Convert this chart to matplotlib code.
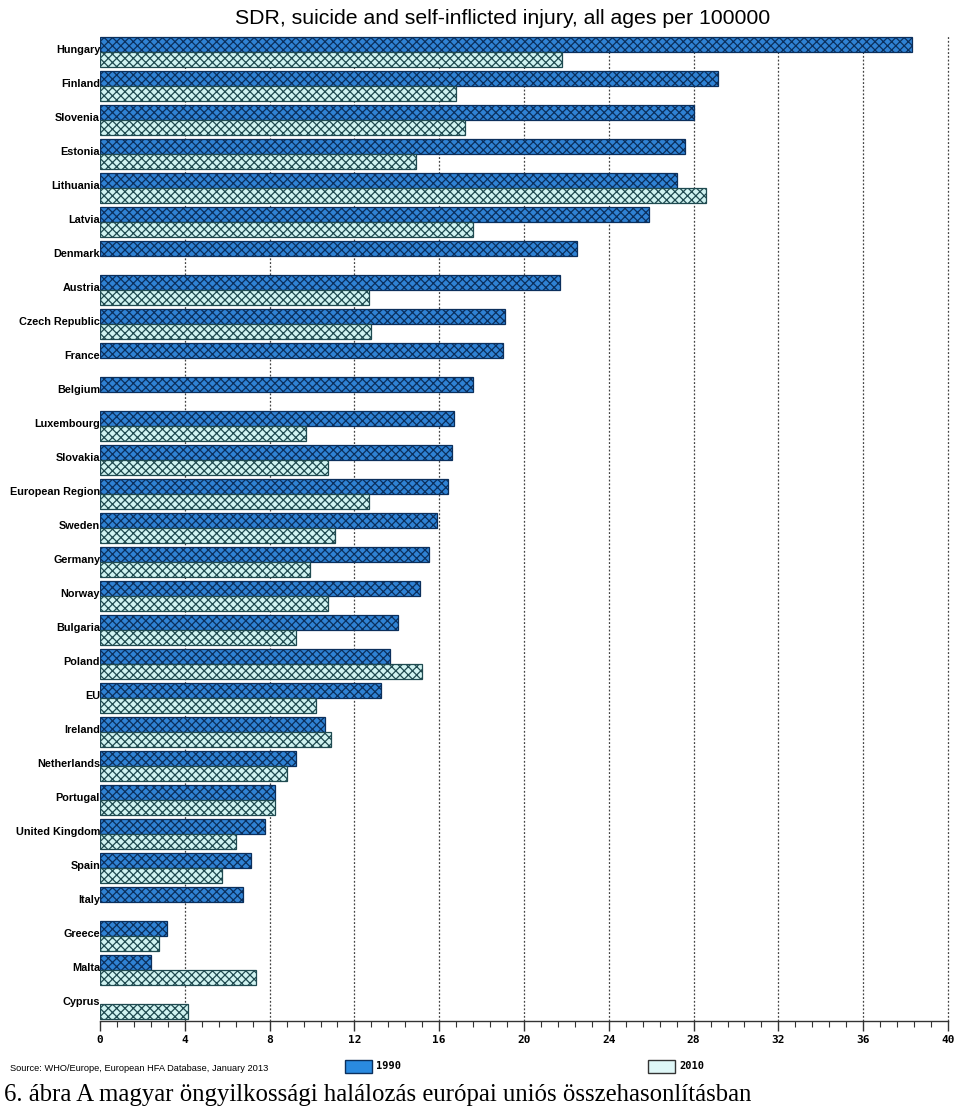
import matplotlib
matplotlib.use("Agg")
import matplotlib.pyplot as plt
import numpy as np
from matplotlib.ticker import MultipleLocator
from matplotlib.patches import Rectangle

countries = ["Hungary", "Finland", "Slovenia", "Estonia", "Lithuania", "Latvia",
             "Denmark", "Austria", "Czech Republic", "France", "Belgium",
             "Luxembourg", "Slovakia", "European Region", "Sweden", "Germany",
             "Norway", "Bulgaria", "Poland", "EU", "Ireland", "Netherlands",
             "Portugal", "United Kingdom", "Spain", "Italy", "Greece", "Malta",
             "Cyprus"]
values_1990 = [38.3, 29.15, 28.0, 27.6, 27.2, 25.9,
               22.5, 21.7, 19.1, 19.0, 17.6,
               16.7, 16.6, 16.4, 15.9, 15.5,
               15.1, 14.05, 13.7, 13.25, 10.6, 9.25,
               8.25, 7.8, 7.1, 6.75, 3.15, 2.4,
               np.nan]
values_2010 = [21.8, 16.8, 17.2, 14.9, 28.6, 17.6,
               np.nan, 12.7, 12.8, np.nan, np.nan,
               9.7, 10.75, 12.7, 11.1, 9.9,
               10.75, 9.25, 15.2, 10.2, 10.9, 8.8,
               8.25, 6.4, 5.75, np.nan, 2.8, 7.35,
               4.15]
x_ticks = [0, 4, 8, 12, 16, 20, 24, 28, 32, 36, 40]
series_labels = ["1990", "2010"]

title = "SDR, suicide and self-inflicted injury, all ages per 100000"
source = "Source: WHO/Europe, European HFA Database, January 2013"
caption = "6. ábra A magyar öngyilkossági halálozás európai uniós összehasonlításban"

c1990_face = "#2f82d4"
c1990_edge = "#0b2f5c"
c2010_face = "#d0f3f1"
c2010_edge = "#1f4a50"

plt.rcParams["hatch.linewidth"] = 0.9

fig = plt.figure(figsize=(9.6, 11.1), dpi=100)
ax = fig.add_axes([0.1042, 0.0802, 0.8833, 0.8883])

y = np.arange(len(countries))
h = 0.43
ax.barh(y - 0.215, values_1990, height=h, color=c1990_face, edgecolor=c1990_edge,
        hatch="xxxx", linewidth=0.9, zorder=3)
ax.barh(y + 0.215, values_2010, height=h, color=c2010_face, edgecolor=c2010_edge,
        hatch="xxxx", linewidth=0.9, zorder=3)

ax.set_ylim(len(countries) - 0.5, -0.5)
ax.set_xlim(0, 40)
ax.set_yticks(y - 0.1)
ax.set_yticklabels(countries, fontsize=7.8, fontweight="bold",
                   family="Liberation Sans")
ax.tick_params(axis="y", length=0, pad=0)

ax.set_xticks(x_ticks)
ax.set_xticklabels([str(t) for t in x_ticks], fontsize=8, fontweight="bold",
                   family="DejaVu Sans Mono")
ax.xaxis.set_minor_locator(MultipleLocator(0.8))
ax.tick_params(axis="x", which="major", length=7, width=1.0, color="#333333", pad=3)
ax.tick_params(axis="x", which="minor", length=4, width=0.8, color="#333333")

for t in x_ticks[1:]:
    ax.axvline(t, color="#444444", linestyle=(0, (1.5, 1.5)), linewidth=0.9,
               zorder=1, clip_on=False)

for s in ["top", "right", "left"]:
    ax.spines[s].set_visible(False)
ax.spines["bottom"].set_color("#333333")
ax.spines["bottom"].set_linewidth(1.0)

fig.text(0.524, 0.983, title, ha="center", va="center", fontsize=15.3,
         family="Liberation Sans")

fig.text(0.010, 0.0378, source, ha="left", va="center", fontsize=6.7,
         family="Liberation Sans")

# legend boxes
fig.add_artist(Rectangle((0.3594, 0.0333), 0.0281, 0.0117, transform=fig.transFigure,
                         facecolor="#2a8ae0", edgecolor="#0b2f5c", linewidth=1.0))
fig.text(0.392, 0.0392, series_labels[0], ha="left", va="center", fontsize=7.5,
         fontweight="bold", family="DejaVu Sans Mono")
fig.add_artist(Rectangle((0.675, 0.0333), 0.0281, 0.0117, transform=fig.transFigure,
                         facecolor="#dff7f7", edgecolor="#333333", linewidth=1.0))
fig.text(0.7075, 0.0392, series_labels[1], ha="left", va="center", fontsize=7.5,
         fontweight="bold", family="DejaVu Sans Mono")

fig.text(0.004, 0.0135, caption, ha="left", va="center", fontsize=17.8,
         family="Liberation Serif")

fig.savefig("out.png", dpi=100)
